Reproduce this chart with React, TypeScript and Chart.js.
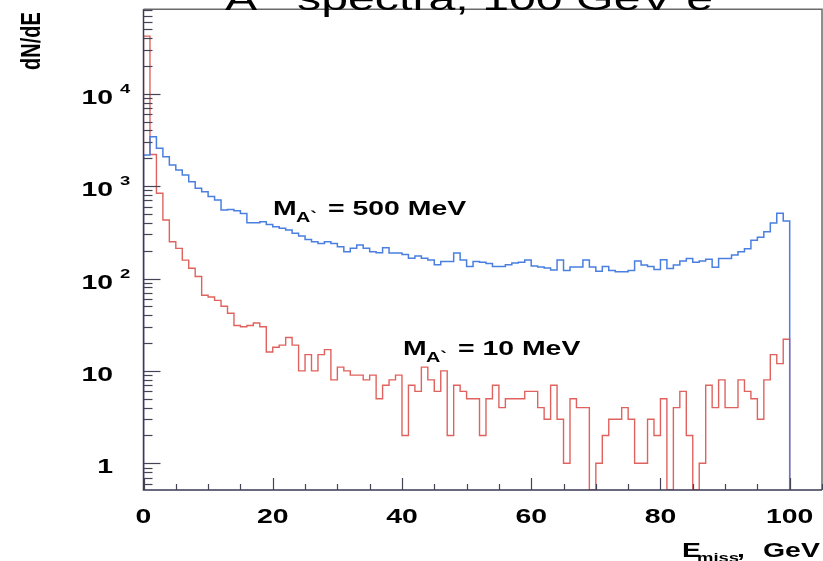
import React, { useEffect, useRef } from 'react';
import { Chart, registerables } from 'chart.js';

Chart.register(...registerables);

// ---- data (1 GeV bins from 0 to 100) ----
const X_START = 0;
const BIN_WIDTH = 1;

const BLUE_500MEV = [
  2170, 3425, 2565, 2080, 1690, 1490, 1318, 1117, 950, 870,
  770, 707, 551, 560, 540, 507, 402, 402, 412, 385,
  364, 350, 335, 308, 288, 265, 250, 240, 250, 240,
  221, 195, 213, 230, 213, 195, 190, 215, 189, 189,
  182, 166, 175, 166, 159, 141, 153, 153, 189, 159,
  135, 153, 150, 145, 135, 135, 141, 147, 150, 159,
  137, 133, 130, 124, 159, 122, 133, 133, 159, 133,
  120, 135, 122, 118, 118, 122, 155, 140, 135, 125,
  160, 128, 140, 155, 165, 150, 155, 162, 132, 165,
  165, 180, 195, 210, 260, 280, 320, 400, 510, 420,
];

const RED_10MEV = [
  42000, 2200, 836, 430, 250, 212, 158, 129, 105, 66,
  63, 58, 50, 42, 31, 30, 31, 33, 30, 16,
  18, 19, 23, 19, 10, 15, 10, 15, 17, 8,
  11, 10, 9, 9, 8, 9, 5, 7, 8, 9,
  2, 7, 6, 11, 8, 6, 10, 2, 7, 6,
  5, 5, 2, 5, 7, 4, 5, 5, 5, 6,
  6, 4, 3, 7, 3, 1, 5, 4, 4, 0,
  1, 2, 3, 3, 4, 3, 1, 1, 3, 2,
  5, 0, 4, 6, 2, 0, 1, 7, 4, 8,
  4, 4, 8, 6, 5, 3, 8, 15, 12, 22,
];

const X_MIN = 0;
const X_MAX = 105;
const Y_MIN = 0.514;
const Y_MAX = 82000;

const X_TICK_VALUES = [0, 20, 40, 60, 80, 100];
const X_TICK_LABELS = ['0', '20', '40', '60', '80', '100'];
const Y_LABEL_VALUES = [1, 10, 100, 1000, 10000];
const Y_LABEL_BASE = ['1', '10', '10', '10', '10'];
const Y_LABEL_EXP = ['', '', '2', '3', '4'];

const TITLE_MAIN = 'A`';
const TITLE_REST = 'spectra, 100 GeV e';
const Y_TITLE = 'dN/dE';
const X_TITLE_MAIN = 'E';
const X_TITLE_SUB = 'miss';
const X_TITLE_REST = 'GeV';
const LABEL_500 = '= 500 MeV';
const LABEL_10 = '= 10 MeV';

const BLUE = '#4a7fe0';
const RED = '#e0625e';
const FONT = '"Liberation Sans", Arial, Helvetica, sans-serif';
const SX = 1.42; // horizontal stretch of the original picture's text

function histPoints(values: number[]) {
  const pts: { x: number; y: number }[] = [{ x: X_START, y: 0 }];
  values.forEach((v, i) => pts.push({ x: X_START + i * BIN_WIDTH, y: v }));
  const end = X_START + values.length * BIN_WIDTH;
  pts.push({ x: end, y: values[values.length - 1] });
  pts.push({ x: end, y: 0 });
  return pts;
}

function sText(ctx: CanvasRenderingContext2D, text: string, x: number, y: number, font: string, align: CanvasTextAlign = 'left') {
  ctx.save();
  ctx.font = font;
  ctx.textAlign = align;
  ctx.textBaseline = 'alphabetic';
  ctx.translate(x, y);
  ctx.scale(SX, 1);
  ctx.fillText(text, 0, 0);
  ctx.restore();
}

const rootStyle = {
  id: 'rootStyle',
  afterDraw(chart: any) {
    const { ctx, chartArea: a } = chart;
    const xs = chart.scales.x;
    const ys = chart.scales.y;
    ctx.save();

    // frame
    ctx.lineWidth = 1.5;
    ctx.strokeStyle = '#6a6a6a';
    ctx.beginPath();
    ctx.moveTo(a.left, a.top);
    ctx.lineTo(a.right, a.top);
    ctx.lineTo(a.right, a.bottom);
    ctx.stroke();
    ctx.strokeStyle = '#3a3a55';
    ctx.beginPath();
    ctx.moveTo(a.left, a.top);
    ctx.lineTo(a.left, a.bottom);
    ctx.lineTo(a.right, a.bottom);
    ctx.stroke();

    // y ticks (inside)
    ctx.lineWidth = 1.2;
    ctx.strokeStyle = '#444455';
    for (let e = -1; e <= 5; e++) {
      for (let m = 1; m <= 9; m++) {
        const v = m * Math.pow(10, e);
        if (v < ys.min || v > ys.max) continue;
        const py = Math.round(ys.getPixelForValue(v)) + 0.5;
        const len = m === 1 ? 17 : 9;
        ctx.beginPath();
        ctx.moveTo(a.left, py);
        ctx.lineTo(a.left + len, py);
        ctx.stroke();
      }
    }
    // x ticks (inside)
    for (let v = X_MIN; v <= X_MAX; v += 5) {
      const px = Math.round(xs.getPixelForValue(v)) + 0.5;
      const len = v % 20 === 0 ? 12 : 6;
      ctx.beginPath();
      ctx.moveTo(px, a.bottom);
      ctx.lineTo(px, a.bottom - len);
      ctx.stroke();
    }

    ctx.fillStyle = '#000';
    const bold = (s: number) => `bold ${s}px ${FONT}`;

    // x tick labels
    X_TICK_VALUES.forEach((v, i) => {
      sText(ctx, X_TICK_LABELS[i], xs.getPixelForValue(v), a.bottom + 33, bold(20), 'center');
    });

    // y tick labels
    Y_LABEL_VALUES.forEach((v, i) => {
      const py = ys.getPixelForValue(v);
      sText(ctx, Y_LABEL_BASE[i], 113, py + 10, bold(20), 'right');
      if (Y_LABEL_EXP[i]) sText(ctx, Y_LABEL_EXP[i], 120, py - 1, bold(13), 'left');
    });

    // title (cut at top in the original)
    sText(ctx, TITLE_MAIN, 225, 10, `34px ${FONT}`);
    sText(ctx, TITLE_REST, 297, 10, `34px ${FONT}`);

    // y title, rotated
    ctx.save();
    ctx.font = bold(20);
    ctx.textAlign = 'center';
    ctx.textBaseline = 'middle';
    ctx.translate(32, 41);
    ctx.rotate(-Math.PI / 2);
    ctx.scale(1, SX);
    ctx.fillText(Y_TITLE, 0, 0);
    ctx.restore();

    // x title
    sText(ctx, X_TITLE_MAIN, 682, 557, bold(20));
    sText(ctx, X_TITLE_SUB, 697, 562, bold(13));
    sText(ctx, ',', 737, 557, bold(20));
    sText(ctx, X_TITLE_REST, 763, 557, bold(20));

    // curve labels
    const mLabel = (x0: number, base: number, rest: string) => {
      sText(ctx, 'M', x0, base, bold(20));
      sText(ctx, 'A`', x0 + 23, base + 7, bold(14));
      sText(ctx, rest, x0 + 55, base, bold(20));
    };
    mLabel(273, 215, LABEL_500);
    mLabel(403, 355, LABEL_10);

    ctx.restore();
  },
};

export default function App() {
  const ref = useRef<HTMLCanvasElement>(null);
  useEffect(() => {
    if (!ref.current) return;
    const chart = new Chart(ref.current, {
      type: 'line',
      data: {
        datasets: [
          {
            label: 'M_A` = 500 MeV',
            data: histPoints(BLUE_500MEV),
            borderColor: BLUE,
            borderWidth: 1.5,
            pointRadius: 0,
            stepped: 'before',
            fill: false,
          },
          {
            label: 'M_A` = 10 MeV',
            data: histPoints(RED_10MEV),
            borderColor: RED,
            borderWidth: 1.4,
            pointRadius: 0,
            stepped: 'before',
            fill: false,
          },
        ],
      },
      options: {
        animation: false,
        responsive: false,
        parsing: false,
        layout: { padding: { left: 143.5, top: 9.3, right: 1, bottom: 71 } },
        plugins: { legend: { display: false }, tooltip: { enabled: false }, title: { display: false } },
        scales: {
          x: { type: 'linear', min: X_MIN, max: X_MAX, display: false },
          y: { type: 'logarithmic', min: Y_MIN, max: Y_MAX, display: false },
        },
      },
      plugins: [rootStyle],
    });
    return () => chart.destroy();
  }, []);
  return (
    <div style={{ position: 'absolute', left: 0, top: 0, width: 823, height: 561, background: '#fff' }}>
      <canvas ref={ref} width={823} height={561} />
    </div>
  );
}
